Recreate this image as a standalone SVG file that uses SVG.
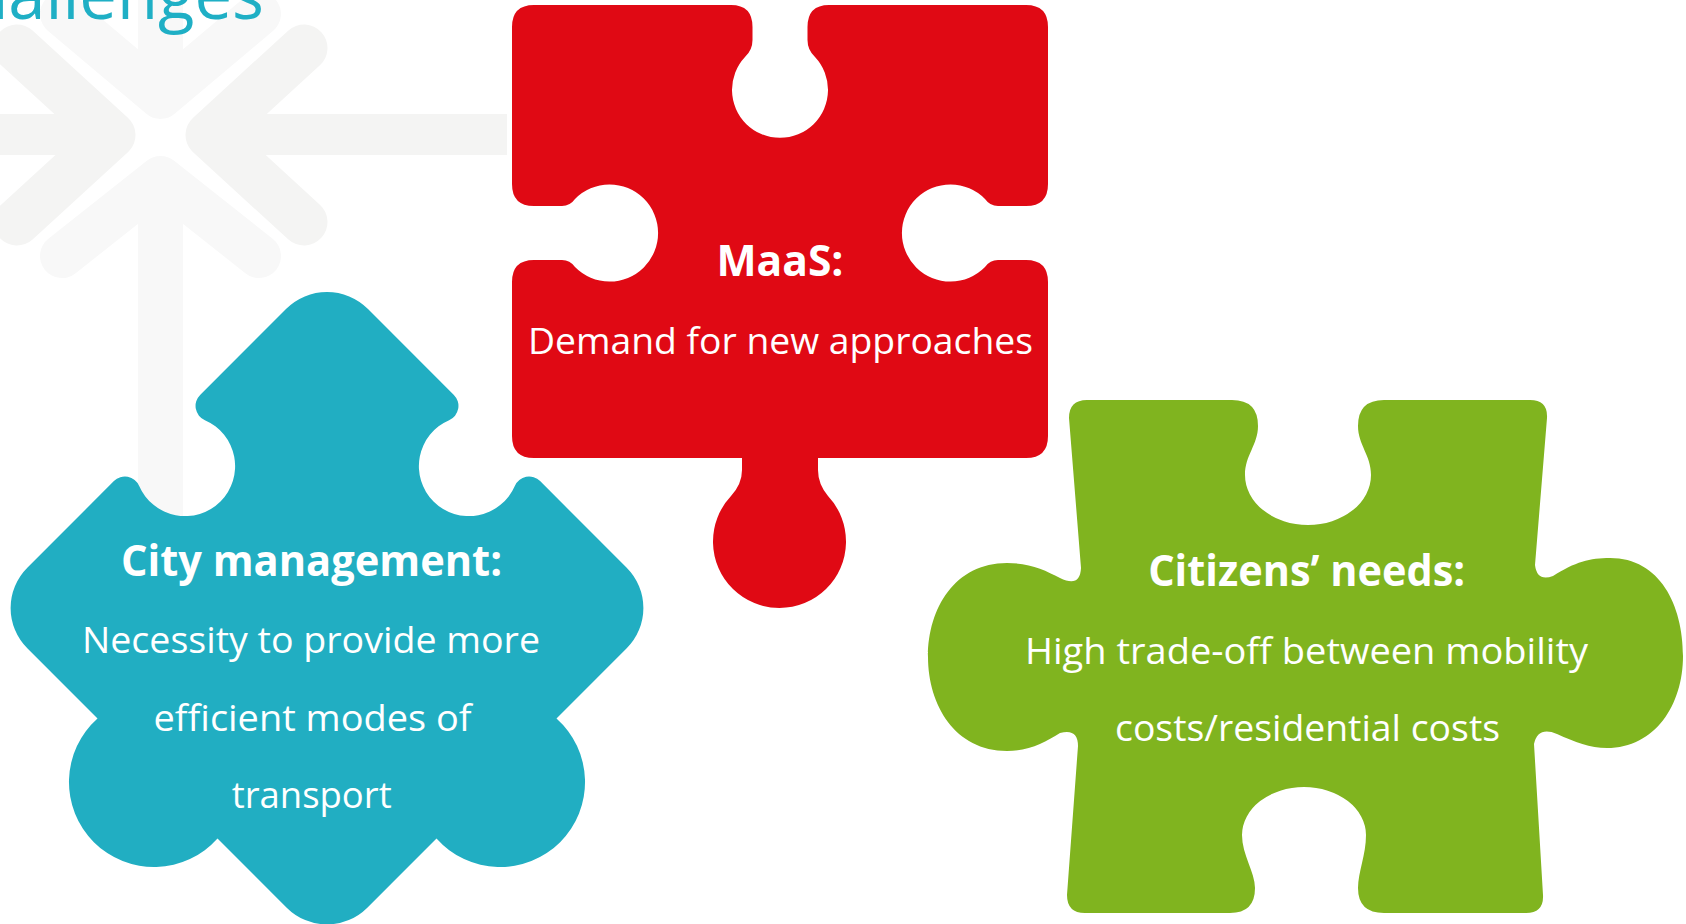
<svg xmlns="http://www.w3.org/2000/svg" width="1686" height="924" viewBox="0 0 1686 924">
<style>
.t{font-family:"Open Sans","Noto Sans","DejaVu Sans",sans-serif;fill:#ffffff;text-anchor:middle}
.b{font-weight:700;font-size:43px}
.n{font-weight:400;font-size:37px}
.armA{fill:none;stroke:#f4f4f3;stroke-width:47;stroke-linecap:round;stroke-linejoin:round}
.armB{fill:none;stroke:#f8f8f8;stroke-width:44;stroke-linecap:round;stroke-linejoin:round}
.barA{fill:#f4f4f3}
.barB{fill:#f8f8f8}
</style>
<rect x="0" y="0" width="1686" height="924" fill="#ffffff"/>
<g id="logo">
  <rect class="barB" x="138" y="0" width="45" height="97"/>
  <polyline class="armB" points="62,14 160.5,97 259,14"/>
  <rect class="barB" x="138" y="178" width="45" height="390"/>
  <polyline class="armB" points="62,256 160.5,178 259,256"/>
  <rect class="barA" x="0" y="114" width="80" height="41"/>
  <polyline class="armA" points="17,48 112,135 17,222"/>
  <rect class="barA" x="240" y="114" width="267" height="41"/>
  <polyline class="armA" points="304,48 209,135 304,222"/>
</g>
<text id="title" x="264" y="19" text-anchor="end" font-family="'Open Sans','Noto Sans',sans-serif" font-size="67" fill="#1fafc5">Challenges</text>
<g id="connectors"></g>
<g id="maas">
  <path fill="#e00914" d="M 534,5 L 731,5 Q 752.5,5 752.5,27 L 752.5,40 Q 752.5,50 745,57 A 48 48 0 1 0 815,57 Q 807.5,50 807.5,40 L 807.5,27 Q 807.5,5 829,5 L 1026,5 Q 1048,5 1048,27 L 1048,184 Q 1048,206 1026,206 L 998,206 Q 990,206 985,199 A 48.5 48.5 0 1 0 985,267 Q 990,260 998,260 L 1026,260 Q 1048,260 1048,282 L 1048,436 Q 1048,458 1026,458 L 818,458 L 818,470 Q 818,484 828,496 A 66.5 66.5 0 1 1 731,496 Q 742,484 742,470 L 742,458 L 534,458 Q 512,458 512,436 L 512,282 Q 512,260 534,260 L 562,260 Q 570,260 575,267 A 48.5 48.5 0 1 0 575,199 Q 570,206 562,206 L 534,206 Q 512,206 512,184 L 512,27 Q 512,5 534,5 Z"/>
  <text class="t b" x="780" y="276" textLength="127" lengthAdjust="spacingAndGlyphs">MaaS:</text>
  <text class="t n" x="780.5" y="354" font-size="36" textLength="505" lengthAdjust="spacingAndGlyphs">Demand for new approaches</text>
</g>
<g id="city">
  <path fill="#21aec2" d="M 286,309 A 58 58 0 0 1 368,309 L 453.9,394.9 A 15.6 15.6 0 0 1 449.1,420.2 A 50 50 0 1 0 514.8,485.9 A 15.6 15.6 0 0 1 540.1,481.1 L 626.7,567.7 A 57 57 0 0 1 626.7,648.3 L 556.5,718.5 A 85 85 0 1 1 436.5,838.5 L 367.3,907.7 A 57 57 0 0 1 286.7,907.7 L 217.5,838.5 A 85 85 0 1 1 97.5,718.5 L 27.3,648.3 A 57 57 0 0 1 27.3,567.7 L 113.9,481.1 A 15.6 15.6 0 0 1 139.2,485.9 A 50 50 0 1 0 204.9,420.2 A 15.6 15.6 0 0 1 200.1,394.9 Z"/>
  <text class="t b" x="311.5" y="576" textLength="381" lengthAdjust="spacingAndGlyphs">City management:</text>
  <text class="t n" x="311" y="653" textLength="458" lengthAdjust="spacingAndGlyphs">Necessity to provide more</text>
  <text class="t n" x="312.5" y="731" textLength="318" lengthAdjust="spacingAndGlyphs">efficient modes of</text>
  <text class="t n" x="311.7" y="808" textLength="160" lengthAdjust="spacingAndGlyphs">transport</text>
</g>
<g id="citizens">
  <path fill="#80b41f" d="M 1087,400 L 1232,400 Q 1258,400 1258,426 C 1258,445 1245,455 1245,475 A 63 50 0 0 0 1371,475 C 1371,455 1358,445 1358,426 Q 1358,400 1384,400 L 1530,400 Q 1548,400 1547,418 L 1535,565 Q 1537,582 1553,576 C 1575,562 1590,558 1610,558 C 1660,558 1683,605 1683,656 C 1683,705 1655,748 1607,748 C 1590,748 1575,742 1557,734 Q 1538,726 1534,744 L 1543,895 Q 1544,913 1526,913 L 1384,913 Q 1358,913 1358,888 C 1358,872 1366,855 1366,835 A 62 48 0 0 0 1242,835 C 1242,855 1255,872 1255,888 Q 1255,913 1230,913 L 1085,913 Q 1067,913 1067,895 L 1078,746 Q 1078,728 1060,733 C 1045,742 1030,751 1007,751 C 955,751 928,705 928,657 C 928,608 955,563 1007,563 C 1030,563 1045,570 1060,578 Q 1080,588 1081,568 L 1069,418 Q 1069,400 1087,400 Z"/>
  <text class="t b" x="1306.7" y="586" textLength="317" lengthAdjust="spacingAndGlyphs">Citizens’ needs:</text>
  <text class="t n" x="1306.5" y="664" font-size="38" textLength="563" lengthAdjust="spacingAndGlyphs">High trade-off between mobility</text>
  <text class="t n" x="1307.5" y="741" font-size="38" textLength="385" lengthAdjust="spacingAndGlyphs">costs/residential costs</text>
</g>
</svg>
